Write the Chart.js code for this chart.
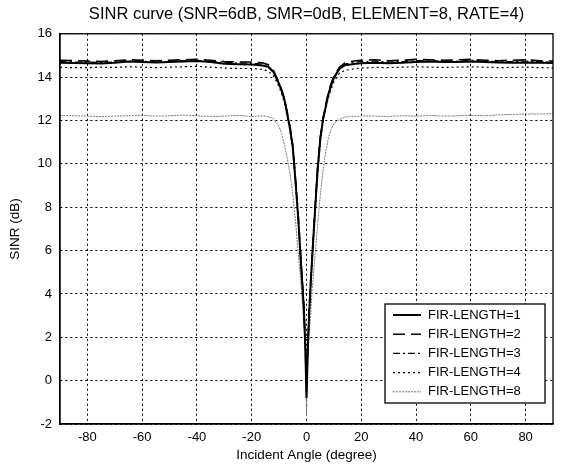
<!DOCTYPE html>
<html>
<head>
<meta charset="utf-8">
<script src="https://cdn.jsdelivr.net/npm/chart.js@4.4.1/dist/chart.umd.min.js"></script>
<style>
  html, body { margin: 0; padding: 0; background: #fff; }
  #sinrChart { display: block; }
</style>
</head>
<body>
<canvas id="sinrChart" width="563" height="465"></canvas>
<script>
// incident angles (degree), denser around the notch at 0
const angles = [-90, -85, -80, -75, -70, -65, -60, -55, -50, -45, -40, -35, -30, -25, -20,
  -18, -16, -14, -12, -10,
  -9, -8, -7, -6, -5, -4, -3, -2,
  -1.5, -1, -0.5, 0, 0.5, 1, 1.5,
  2, 3, 4, 5, 6, 7, 8, 9, 10,
  12, 14, 16, 18, 20,
  25, 30, 35, 40, 45, 50, 55, 60, 65, 70, 75, 80, 85, 90];

// SINR (dB) for each FIR length
const fir1 = [14.66, 14.65, 14.64, 14.63, 14.67, 14.72, 14.70, 14.68, 14.70, 14.72, 14.75, 14.70, 14.62, 14.60, 14.58,
  14.56, 14.54, 14.48, 14.22, 13.68,
  13.35, 12.92, 12.28, 11.62, 10.75, 9.15, 7.45, 5.35,
  4.40, 3.40, 1.80, -0.80, 1.50, 3.20, 4.40,
  5.50, 7.60, 9.60, 11.10, 12.02, 12.62, 13.20, 13.62, 13.95,
  14.38, 14.55, 14.58, 14.62, 14.64,
  14.66, 14.64, 14.66, 14.70, 14.72, 14.70, 14.70, 14.72, 14.70, 14.68, 14.67, 14.68, 14.66, 14.65];

const fir2 = [14.78, 14.76, 14.74, 14.72, 14.76, 14.80, 14.78, 14.75, 14.78, 14.80, 14.82, 14.78, 14.72, 14.70, 14.70,
  14.68, 14.66, 14.58, 14.30, 13.75,
  13.40, 12.98, 12.35, 11.70, 10.85, 9.30, 7.60, 5.50,
  4.55, 3.55, 2.00, -0.50, 1.70, 3.35, 4.55,
  5.65, 7.75, 9.75, 11.20, 12.10, 12.72, 13.30, 13.72, 14.05,
  14.45, 14.65, 14.72, 14.76, 14.78,
  14.80, 14.76, 14.78, 14.82, 14.80, 14.78, 14.80, 14.82, 14.78, 14.76, 14.78, 14.80, 14.76, 14.74];

const fir3 = [14.72, 14.70, 14.70, 14.68, 14.70, 14.74, 14.74, 14.70, 14.72, 14.76, 14.78, 14.74, 14.68, 14.66, 14.64,
  14.62, 14.60, 14.52, 14.26, 13.72,
  13.38, 12.95, 12.32, 11.66, 10.80, 9.22, 7.52, 5.42,
  4.48, 3.48, 1.90, 0.20, 1.60, 3.28, 4.48,
  5.58, 7.68, 9.68, 11.15, 12.06, 12.68, 13.26, 13.68, 14.00,
  14.42, 14.60, 14.66, 14.70, 14.72,
  14.74, 14.70, 14.72, 14.76, 14.76, 14.74, 14.74, 14.78, 14.74, 14.72, 14.72, 14.74, 14.72, 14.70];

const fir4 = [14.45, 14.44, 14.44, 14.46, 14.45, 14.48, 14.46, 14.44, 14.46, 14.48, 14.50, 14.46, 14.42, 14.40, 14.40,
  14.38, 14.35, 14.28, 14.05, 13.55,
  13.20, 12.78, 12.15, 11.48, 10.60, 9.00, 7.30, 5.20,
  4.25, 3.25, 1.60, 1.00, 1.40, 3.05, 4.25,
  5.35, 7.45, 9.45, 10.95, 11.90, 12.50, 13.05, 13.45, 13.78,
  14.18, 14.32, 14.35, 14.40, 14.42,
  14.45, 14.44, 14.46, 14.48, 14.46, 14.45, 14.46, 14.48, 14.46, 14.44, 14.45, 14.46, 14.44, 14.43];

const fir8 = [12.24, 12.22, 12.20, 12.18, 12.20, 12.22, 12.24, 12.20, 12.22, 12.25, 12.22, 12.18, 12.20, 12.24, 12.18,
  12.20, 12.22, 12.18, 12.08, 11.72,
  11.35, 10.85, 10.25, 9.50, 8.60, 7.35, 5.85, 4.45,
  3.50, 2.60, 1.80, -1.60, 1.20, 2.20, 3.00,
  4.10, 5.60, 7.10, 8.50, 9.65, 10.55, 11.20, 11.60, 11.85,
  12.05, 12.15, 12.20, 12.18, 12.22,
  12.20, 12.18, 12.22, 12.20, 12.24, 12.20, 12.22, 12.24, 12.22, 12.26, 12.28, 12.30, 12.30, 12.32];

const seriesNames = ['FIR-LENGTH=1', 'FIR-LENGTH=2', 'FIR-LENGTH=3', 'FIR-LENGTH=4', 'FIR-LENGTH=8'];
const xTicks = [-80, -60, -40, -20, 0, 20, 40, 60, 80];
const yTicks = [-2, 0, 2, 4, 6, 8, 10, 12, 14, 16];

const FONT = '"Liberation Sans", Arial, Helvetica, sans-serif';

function toPoints(values) {
  return values.map((v, i) => ({ x: angles[i], y: v }));
}

// line styles, MATLAB-ish
const styles = [
  { color: '#000', width: 2, dash: [] },
  { color: '#000', width: 1.6, dash: [12, 6] },
  { color: '#000', width: 1.2, dash: [7, 3, 2, 3] },
  { color: '#000', width: 1.2, dash: [2, 3] },
  { color: '#777', width: 1, dash: [2, 1] }
];

const allSeries = [fir1, fir2, fir3, fir4, fir8];
const datasets = allSeries.map((vals, i) => ({
  label: seriesNames[i],
  data: toPoints(vals),
  borderColor: styles[i].color,
  borderWidth: styles[i].width,
  borderDash: styles[i].dash,
  pointRadius: 0,
  fill: false,
  tension: 0
}));

// full box round the plot area
const frame = {
  id: 'frame',
  afterDatasetsDraw(chart) {
    const { ctx, chartArea: a } = chart;
    ctx.save();
    ctx.strokeStyle = '#000';
    ctx.lineWidth = 1.3;
    ctx.setLineDash([]);
    ctx.strokeRect(a.left, a.top, a.right - a.left, a.bottom - a.top);
    ctx.restore();
  }
};

// legend box inside the plot, lower right
const boxLegend = {
  id: 'boxLegend',
  afterDraw(chart) {
    const { ctx, chartArea: a } = chart;
    const w = 160, rowH = 19.2;
    const right = a.right - 8, bottom = a.bottom - 21;
    const h = rowH * chart.data.datasets.length + 3;
    const left = right - w, top = bottom - h;
    ctx.save();
    ctx.fillStyle = '#fff';
    ctx.fillRect(left, top, w, h);
    ctx.strokeStyle = '#000';
    ctx.lineWidth = 1.3;
    ctx.setLineDash([]);
    ctx.strokeRect(left, top, w, h);
    ctx.font = '13px ' + FONT;
    ctx.textBaseline = 'middle';
    chart.data.datasets.forEach((ds, i) => {
      const y = top + 11 + i * rowH;
      ctx.beginPath();
      ctx.strokeStyle = ds.borderColor;
      ctx.lineWidth = ds.borderWidth;
      ctx.setLineDash(ds.borderDash);
      ctx.moveTo(left + 8, y);
      ctx.lineTo(left + 36, y);
      ctx.stroke();
      ctx.setLineDash([]);
      ctx.fillStyle = '#000';
      ctx.fillText(ds.label, left + 43, y);
    });
    ctx.restore();
  }
};

const gridStyle = {
  color: '#000',
  lineWidth: 1,
  drawTicks: false
};

new Chart(document.getElementById('sinrChart'), {
  type: 'line',
  data: { datasets },
  plugins: [frame, boxLegend],
  options: {
    responsive: false,
    animation: false,
    devicePixelRatio: 1,
    layout: { padding: { left: 0, right: 10, top: 0, bottom: 0 } },
    plugins: {
      legend: { display: false },
      tooltip: { enabled: false },
      title: {
        display: true,
        fullSize: false,
        text: 'SINR curve (SNR=6dB, SMR=0dB, ELEMENT=8, RATE=4)',
        color: '#000',
        font: { family: FONT, size: 16.5, weight: 'normal' },
        padding: { top: 5, bottom: 9 }
      }
    },
    scales: {
      x: {
        type: 'linear',
        min: -90,
        max: 90,
        afterBuildTicks(scale) { scale.ticks = xTicks.map(v => ({ value: v })); },
        afterFit(scale) { scale.height = 41; },
        grid: gridStyle,
        border: { display: true, color: '#000', width: 1.3, dash: [2, 3] },
        ticks: { color: '#000', font: { family: FONT, size: 13 }, padding: 6, maxRotation: 0 },
        title: {
          display: true,
          text: 'Incident Angle (degree)',
          color: '#000',
          font: { family: FONT, size: 13.5 },
          padding: { top: 0, bottom: 2 }
        }
      },
      y: {
        min: -2,
        max: 16,
        afterBuildTicks(scale) { scale.ticks = yTicks.map(v => ({ value: v })); },
        afterFit(scale) { scale.width = 60; },
        grid: gridStyle,
        border: { display: true, color: '#000', width: 1.3, dash: [2, 3] },
        ticks: { color: '#000', font: { family: FONT, size: 13 }, padding: 8 },
        title: {
          display: true,
          text: 'SINR (dB)',
          color: '#000',
          font: { family: FONT, size: 13.5 },
          padding: { top: 7, bottom: 0 }
        }
      }
    }
  }
});
</script>
</body>
</html>
